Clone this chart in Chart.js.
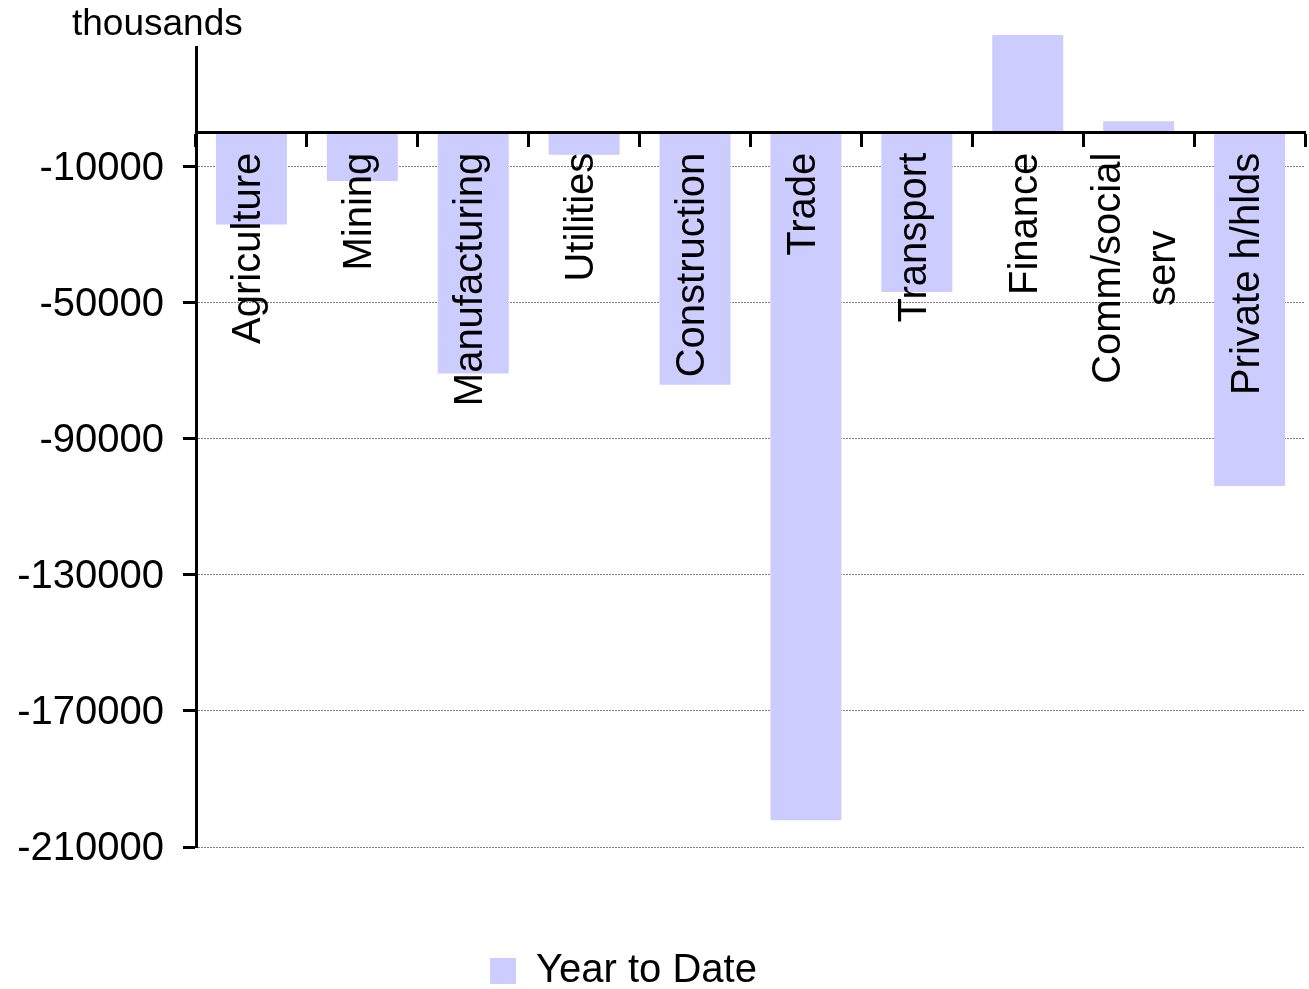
<!DOCTYPE html>
<html>
<head>
<meta charset="utf-8">
<title>Employment change by sector, year to date</title>
<script src="https://cdn.jsdelivr.net/npm/chart.js@4/dist/chart.umd.min.js"></script>
<style>
  html, body { margin: 0; padding: 0; background: #ffffff; }
  #wrap { width: 1309px; height: 989px; }
</style>
</head>
<body>
<div id="wrap"><canvas id="chart" width="1309" height="989"></canvas></div>
<script>
// Sectors (a nested array is a label drawn on two lines)
const categories = [
  'Agriculture', 'Mining', 'Manufacturing', 'Utilities', 'Construction',
  'Trade', 'Transport', 'Finance', ['Comm/social', 'serv'], 'Private h/hlds'
];
// Change in employment, thousands
const yearToDate = [-27000, -14200, -70800, -6500, -74100, -202100, -46800, 28700, 3400, -103900];
// Value axis
const yTicks = [-210000, -170000, -130000, -90000, -50000, -10000];
const yMin = -210000;
const yMax = 25200;
const seriesName = 'Year to Date';
const unitLabel = 'thousands';

const FONT = '"Liberation Sans", Arial, Helvetica, sans-serif';
Chart.defaults.font.family = FONT;
Chart.defaults.color = '#000000';

// Sector names, rotated and written over the bars just below the zero line
const categoryLabels = {
  id: 'categoryLabels',
  afterDatasetsDraw(chart) {
    const { ctx, scales: { x, y } } = chart;
    const base = y.getPixelForValue(0) + 20;
    ctx.save();
    ctx.font = '40px ' + FONT;
    ctx.fillStyle = '#000000';
    ctx.textBaseline = 'middle';
    ctx.textAlign = 'center';
    chart.data.labels.forEach((label, i) => {
      const lines = Array.isArray(label) ? label : [label];
      const widest = Math.max(...lines.map(l => ctx.measureText(l).width));
      ctx.save();
      ctx.translate(x.getPixelForTick(i) - 2, base);
      ctx.rotate(-Math.PI / 2);
      lines.forEach((line, k) => {
        ctx.fillText(line, -widest / 2, (k - (lines.length - 1) / 2) * 55);
      });
      ctx.restore();
    });
    ctx.restore();
  },
  afterDraw(chart) {
    const { ctx, chartArea } = chart;
    ctx.save();
    ctx.font = '37px ' + FONT;
    ctx.fillStyle = '#000000';
    ctx.textAlign = 'left';
    ctx.textBaseline = 'alphabetic';
    ctx.fillText(unitLabel, chartArea.left - 124, chartArea.top - 12);
    ctx.restore();
  }
};

// Legend sits a little left of centre, near the bottom edge
const legendPlacement = {
  id: 'legendPlacement',
  afterLayout(chart) {
    const lg = chart.legend;
    if (!lg) return;
    const h = lg.bottom - lg.top;
    lg.left -= 29;
    lg.right -= 29;
    lg.top = 941;
    lg.bottom = lg.top + h;
  }
};

new Chart(document.getElementById('chart'), {
  type: 'bar',
  data: {
    labels: categories,
    datasets: [{
      label: seriesName,
      data: yearToDate,
      backgroundColor: '#CCCCFF',
      borderWidth: 0,
      categoryPercentage: 1.0,
      barPercentage: 0.64,
      clip: false
    }]
  },
  options: {
    responsive: false,
    devicePixelRatio: 1,
    animation: false,
    layout: { padding: { top: 47, right: 4, bottom: 82, left: 0 } },
    scales: {
      x: {
        position: { y: 0 },
        offset: true,
        ticks: { display: false },
        grid: {
          offset: true,
          drawOnChartArea: false,
          drawTicks: true,
          tickLength: 13,
          tickWidth: 3,
          tickColor: '#000000',
          lineWidth: 1
        },
        border: { display: true, color: '#000000', width: 3, z: 1 }
      },
      y: {
        min: yMin,
        max: yMax,
        afterBuildTicks(scale) {
          scale.ticks = yTicks.map(v => ({ value: v }));
        },
        afterFit(scale) {
          scale.width = 196;
        },
        ticks: {
          font: { size: 40 },
          color: '#000000',
          padding: 19,
          labelOffset: 2,
          callback: v => String(v)
        },
        grid: {
          color: '#808080',
          lineWidth: 1,
          drawTicks: true,
          tickLength: 13,
          tickWidth: 3,
          tickColor: '#000000'
        },
        border: { display: true, color: '#000000', width: 3, dash: [2, 1] }
      }
    },
    plugins: {
      legend: {
        position: 'bottom',
        labels: {
          font: { size: 40 },
          color: '#000000',
          boxWidth: 26,
          boxHeight: 26,
          padding: 10
        }
      },
      tooltip: { enabled: false },
      title: { display: false }
    }
  },
  plugins: [categoryLabels, legendPlacement]
});
</script>
</body>
</html>
